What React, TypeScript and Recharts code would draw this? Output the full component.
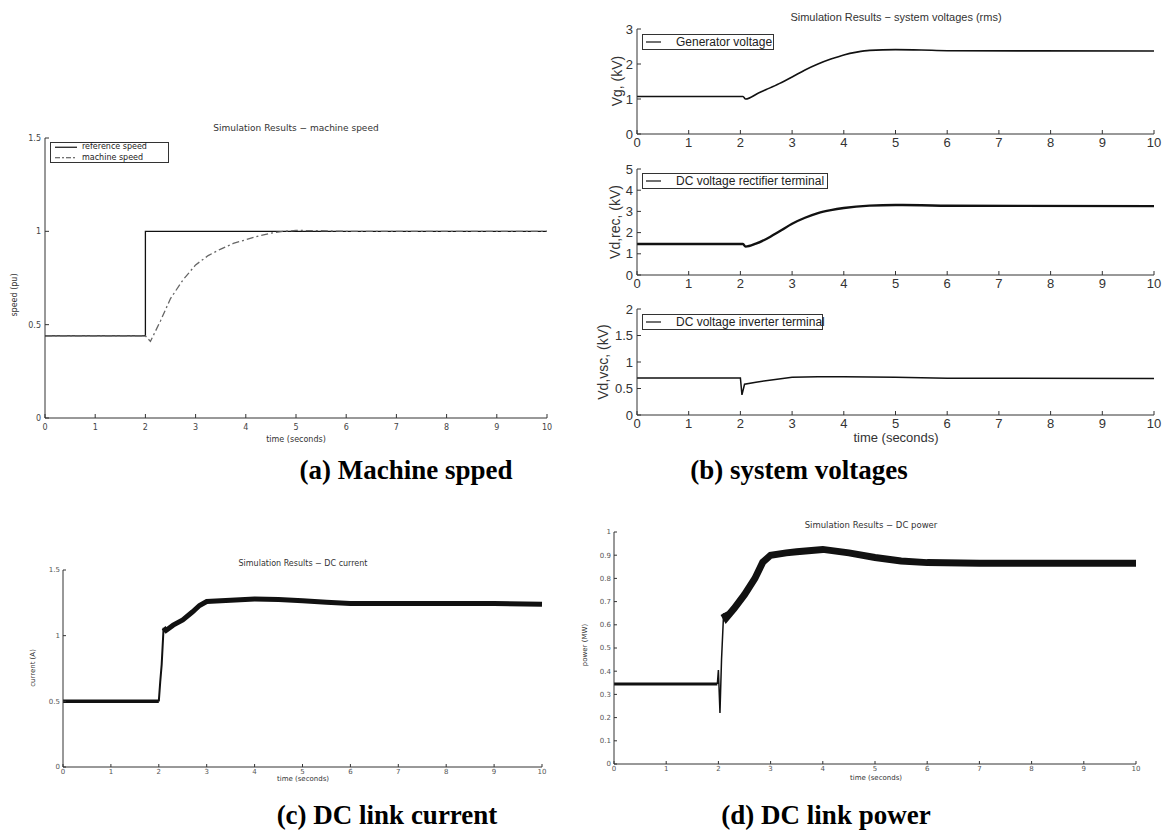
import type { ReactNode } from "react";
import { Line, LineChart, XAxis, YAxis } from "recharts";

// (a) machine speed
const speedRefT = [0, 2, 2, 10];
const speedRefV = [0.44, 0.44, 1, 1];
const speedT = [0, 2, 2.1, 2.3, 2.5, 2.75, 3, 3.25, 3.5, 3.75, 4, 4.25, 4.5, 4.75, 5, 5.5, 6, 7, 10];
const speedV = [0.44, 0.44, 0.41, 0.52, 0.64, 0.74, 0.82, 0.87, 0.905, 0.935, 0.955, 0.975, 0.99, 1.0, 1.005, 1.003, 1.0, 1.0, 1.0];

// (b) system voltages
const vgT = [0, 2.05, 2.1, 2.35, 2.5, 2.75, 3, 3.25, 3.5, 3.75, 4, 4.25, 4.5, 5, 5.5, 6, 10];
const vgV = [1.07, 1.07, 1.0, 1.17, 1.27, 1.44, 1.63, 1.83, 2.0, 2.14, 2.26, 2.34, 2.39, 2.41, 2.4, 2.38, 2.37];
const vdRecT = [0, 2.05, 2.1, 2.3, 2.5, 2.75, 3, 3.25, 3.5, 3.75, 4, 4.5, 5, 5.5, 6, 10];
const vdRecV = [1.46, 1.46, 1.34, 1.48, 1.7, 2.05, 2.42, 2.7, 2.92, 3.06, 3.16, 3.27, 3.3, 3.29, 3.27, 3.25];
const vdVscT = [0, 2.0, 2.03, 2.08, 2.3, 2.6, 3, 3.5, 4, 5, 6, 10];
const vdVscV = [0.7, 0.7, 0.38, 0.58, 0.62, 0.66, 0.71, 0.72, 0.72, 0.71, 0.695, 0.69];

// (c) DC current
const curPreT = [0, 2];
const curPreV = [0.5, 0.5];
const curStepT = [2, 2.03, 2.06, 2.1];
const curStepV = [0.5, 0.65, 0.78, 1.06];
const curPostT = [2.1, 2.15, 2.3, 2.5, 2.7, 2.85, 3, 3.5, 4, 4.5, 5, 5.5, 6, 7, 8, 9, 10];
const curPostV = [1.06, 1.04, 1.08, 1.12, 1.18, 1.23, 1.26, 1.27, 1.28, 1.275, 1.265, 1.255, 1.245, 1.245, 1.245, 1.245, 1.24];

// (d) DC power
const powPreT = [0, 1.98];
const powPreV = [0.345, 0.345];
const powStepT = [1.98, 2.0, 2.03, 2.06, 2.1];
const powStepV = [0.345, 0.405, 0.22, 0.45, 0.65];
const powPostT = [2.1, 2.15, 2.3, 2.5, 2.7, 2.85, 3, 3.3, 3.5, 4, 4.5, 5, 5.5, 6, 7, 8, 9, 10];
const powPostV = [0.65, 0.63, 0.67, 0.73, 0.8, 0.87, 0.9, 0.91, 0.915, 0.925, 0.91, 0.89, 0.875, 0.868, 0.865, 0.865, 0.865, 0.865];

const timeTicks = [0, 1, 2, 3, 4, 5, 6, 7, 8, 9, 10];
const speedTicks = [0, 0.5, 1, 1.5];
const vgTicks = [0, 1, 2, 3];
const vdRecTicks = [0, 1, 2, 3, 4, 5];
const vdVscTicks = [0, 0.5, 1, 1.5, 2];
const curTicks = [0, 0.5, 1, 1.5];
const powTicks = [0, 0.1, 0.2, 0.3, 0.4, 0.5, 0.6, 0.7, 0.8, 0.9, 1];

const pts = (t: number[], v: number[]) => t.map((x, i) => ({ t: x, v: v[i] }));

const SMALL = "'DejaVu Sans', sans-serif";
const ARIAL = "'Liberation Sans', Arial, sans-serif";
const SERIF = "'Liberation Serif', 'Times New Roman', serif";
const AXIS = "#333";

type Box = { x0: number; y0: number; x1: number; y1: number };

function Plot({ box, yw, xh, children }: { box: Box; yw: number; xh: number; children: ReactNode }) {
	const M = 10;
	return (
		<div style={{ position: "absolute", left: box.x0 - yw, top: box.y0 - M }}>
			<LineChart
				width={yw + (box.x1 - box.x0) + M}
				height={M + (box.y1 - box.y0) + xh}
				margin={{ top: M, right: M, bottom: 0, left: 0 }}
			>
				{children}
			</LineChart>
		</div>
	);
}

// matlab style frame: inward ticks on all four sides
function frame(yDomain: [number, number], yTicks: number[], font: number, family: string, color: string, yw: number, xh: number, tick: number, xGap: number, yGap: number) {
	const tickStyle = { fontSize: font, fill: color, fontFamily: family };
	return [
		<XAxis key="x" dataKey="t" type="number" domain={[0, 10]} ticks={timeTicks} interval={0} height={xh}
			tickSize={-tick} tickMargin={tick + xGap} stroke={AXIS} tick={tickStyle} />,
		<XAxis key="xt" xAxisId="top" orientation="top" type="number" domain={[0, 10]} ticks={timeTicks} interval={0}
			height={0} tickSize={-tick} tick={false} stroke={AXIS} />,
		<YAxis key="y" type="number" domain={yDomain} ticks={yTicks} interval={0} width={yw}
			tickSize={-tick} tickMargin={tick + yGap} stroke={AXIS} tick={tickStyle} />,
		<YAxis key="yr" yAxisId="right" orientation="right" type="number" domain={yDomain} ticks={yTicks} interval={0}
			width={0} tickSize={-tick} tick={false} stroke={AXIS} />,
	];
}

function Txt({ x, y, size, family, children, rotate, weight, color = "#222" }: {
	x: number; y: number; size: number; family: string; children: ReactNode; rotate?: boolean; weight?: number; color?: string;
}) {
	return (
		<div
			style={{
				position: "absolute", left: x, top: y, fontSize: size, fontFamily: family, fontWeight: weight, color,
				whiteSpace: "nowrap", lineHeight: 1,
				transform: `translate(-50%, -50%)${rotate ? " rotate(-90deg)" : ""}`,
			}}
		>
			{children}
		</div>
	);
}

function LegendBox({ x, y, w, h, rows, size, family, sample }: {
	x: number; y: number; w: number; h: number; size: number; family: string; sample: [number, number, number];
	rows: { label: string; dash?: string; color: string }[];
}) {
	const [s0, s1, tx] = sample;
	const rowH = h / rows.length;
	return (
		<div style={{ position: "absolute", left: x, top: y, width: w, height: h, border: `1px solid ${AXIS}`, background: "#fff", boxSizing: "border-box" }}>
			<svg width={w} height={h} style={{ position: "absolute", left: -1, top: -1 }}>
				{rows.map((r, i) => (
					<line key={r.label} x1={s0} x2={s1} y1={rowH * (i + 0.5)} y2={rowH * (i + 0.5)} stroke={r.color} strokeWidth={1.2} strokeDasharray={r.dash} />
				))}
			</svg>
			{rows.map((r, i) => (
				<div key={r.label} style={{ position: "absolute", left: tx - 1, top: rowH * (i + 0.5) - 1, transform: "translateY(-50%)", fontSize: size, fontFamily: family, lineHeight: 1, whiteSpace: "nowrap", color: "#222" }}>
					{r.label}
				</div>
			))}
		</div>
	);
}

const boxA = { x0: 45, y0: 138, x1: 547, y1: 418 };
const boxB1 = { x0: 637, y0: 29, x1: 1154, y1: 134 };
const boxB2 = { x0: 637, y0: 169, x1: 1154, y1: 275 };
const boxB3 = { x0: 637, y0: 309, x1: 1154, y1: 415 };
const boxC = { x0: 63, y0: 570, x1: 542, y1: 767 };
const boxD = { x0: 614, y0: 532, x1: 1136, y1: 764 };

export default function App() {
	return (
		<div style={{ position: "absolute", left: 0, top: 0, width: 1164, height: 832, background: "#fff", overflow: "hidden" }}>
			{/* (a) */}
			<Plot box={boxA} yw={45} xh={32}>
				{frame([0, 1.5], speedTicks, 8, SMALL, "#444", 45, 32, 4, 6, 4)}
				<Line data={pts(speedRefT, speedRefV)} dataKey="v" type="linear" stroke="#111" strokeWidth={1.3} dot={false} isAnimationActive={false} />
				<Line data={pts(speedT, speedV)} dataKey="v" type="linear" stroke="#666" strokeWidth={1.3} strokeDasharray="7 3 2 3" dot={false} isAnimationActive={false} />
			</Plot>
			<Txt x={296} y={128} size={9} family={SMALL} color="#333">Simulation Results − machine speed</Txt>
			<Txt x={296} y={440} size={8} family={SMALL} color="#333">time (seconds)</Txt>
			<Txt x={15} y={295} size={8} family={SMALL} color="#333" rotate>speed (pu)</Txt>
			<LegendBox x={50} y={142} w={119} h={21} size={8} family={SMALL} sample={[5, 27, 32]}
				rows={[{ label: "reference speed", color: "#111" }, { label: "machine speed", color: "#444", dash: "5 2 2 2" }]} />

			{/* (b) */}
			<Plot box={boxB1} yw={57} xh={20}>
				{frame([0, 3], vgTicks, 13, ARIAL, "#333", 57, 20, 4, 4, 4)}
				<Line data={pts(vgT, vgV)} dataKey="v" type="monotone" stroke="#111" strokeWidth={1.6} dot={false} isAnimationActive={false} />
			</Plot>
			<Plot box={boxB2} yw={57} xh={20}>
				{frame([0, 5], vdRecTicks, 13, ARIAL, "#333", 57, 20, 4, 4, 4)}
				<Line data={pts(vdRecT, vdRecV)} dataKey="v" type="monotone" stroke="#111" strokeWidth={2.4} dot={false} isAnimationActive={false} />
			</Plot>
			<Plot box={boxB3} yw={57} xh={20}>
				{frame([0, 2], vdVscTicks, 13, ARIAL, "#333", 57, 20, 4, 4, 4)}
				<Line data={pts(vdVscT, vdVscV)} dataKey="v" type="linear" stroke="#111" strokeWidth={1.5} dot={false} isAnimationActive={false} />
			</Plot>
			<Txt x={896} y={17} size={11} family={ARIAL} color="#333">Simulation Results − system voltages (rms)</Txt>
			<Txt x={896} y={437} size={13} family={ARIAL} color="#333">time (seconds)</Txt>
			<Txt x={617} y={81} size={14} family={ARIAL} color="#333" rotate>Vg, (kV)</Txt>
			<Txt x={615} y={222} size={14} family={ARIAL} color="#333" rotate>Vd,rec, (kV)</Txt>
			<Txt x={603} y={362} size={14} family={ARIAL} color="#333" rotate>Vd,vsc, (kV)</Txt>
			<LegendBox x={642} y={34} w={132} h={16} size={12} family={ARIAL} sample={[4, 19, 34]} rows={[{ label: "Generator voltage", color: "#111" }]} />
			<LegendBox x={642} y={173} w={186} h={16} size={12} family={ARIAL} sample={[4, 19, 34]} rows={[{ label: "DC voltage rectifier terminal", color: "#111" }]} />
			<LegendBox x={642} y={314} w={181} h={16} size={12} family={ARIAL} sample={[4, 19, 34]} rows={[{ label: "DC voltage inverter terminal", color: "#111" }]} />

			{/* (c) */}
			<Plot box={boxC} yw={63} xh={20}>
				{frame([0, 1.5], curTicks, 7, SMALL, "#555", 63, 20, 3, 2, 3)}
				<Line data={pts(curPreT, curPreV)} dataKey="v" type="linear" stroke="#111" strokeWidth={3.5} dot={false} isAnimationActive={false} />
				<Line data={pts(curStepT, curStepV)} dataKey="v" type="linear" stroke="#111" strokeWidth={2} dot={false} isAnimationActive={false} />
				<Line data={pts(curPostT, curPostV)} dataKey="v" type="linear" stroke="#111" strokeWidth={5} dot={false} isAnimationActive={false} />
			</Plot>
			<Txt x={303} y={564} size={8} family={SMALL} color="#333">Simulation Results − DC current</Txt>
			<Txt x={303} y={779} size={7} family={SMALL} color="#333">time (seconds)</Txt>
			<Txt x={33} y={668} size={7} family={SMALL} color="#333" rotate>current (A)</Txt>

			{/* (d) */}
			<Plot box={boxD} yw={44} xh={20}>
				{frame([0, 1], powTicks, 7, SMALL, "#555", 44, 20, 3, 2, 3)}
				<Line data={pts(powPreT, powPreV)} dataKey="v" type="linear" stroke="#111" strokeWidth={3} dot={false} isAnimationActive={false} />
				<Line data={pts(powStepT, powStepV)} dataKey="v" type="linear" stroke="#111" strokeWidth={1.5} dot={false} isAnimationActive={false} />
				<Line data={pts(powPostT, powPostV)} dataKey="v" type="linear" stroke="#111" strokeWidth={7} dot={false} isAnimationActive={false} />
			</Plot>
			<Txt x={871} y={525} size={8.5} family={SMALL} color="#333">Simulation Results − DC power</Txt>
			<Txt x={876} y={778} size={7} family={SMALL} color="#333">time (seconds)</Txt>
			<Txt x={585} y={645} size={7} family={SMALL} color="#333" rotate>power (MW)</Txt>

			{/* captions */}
			<Txt x={406} y={470} size={27} family={SERIF} weight={700} color="#000">(a) Machine spped</Txt>
			<Txt x={799} y={470} size={27} family={SERIF} weight={700} color="#000">(b) system voltages</Txt>
			<Txt x={387} y={815} size={27} family={SERIF} weight={700} color="#000">(c) DC link current</Txt>
			<Txt x={826} y={815} size={27} family={SERIF} weight={700} color="#000">(d) DC link power</Txt>
		</div>
	);
}
